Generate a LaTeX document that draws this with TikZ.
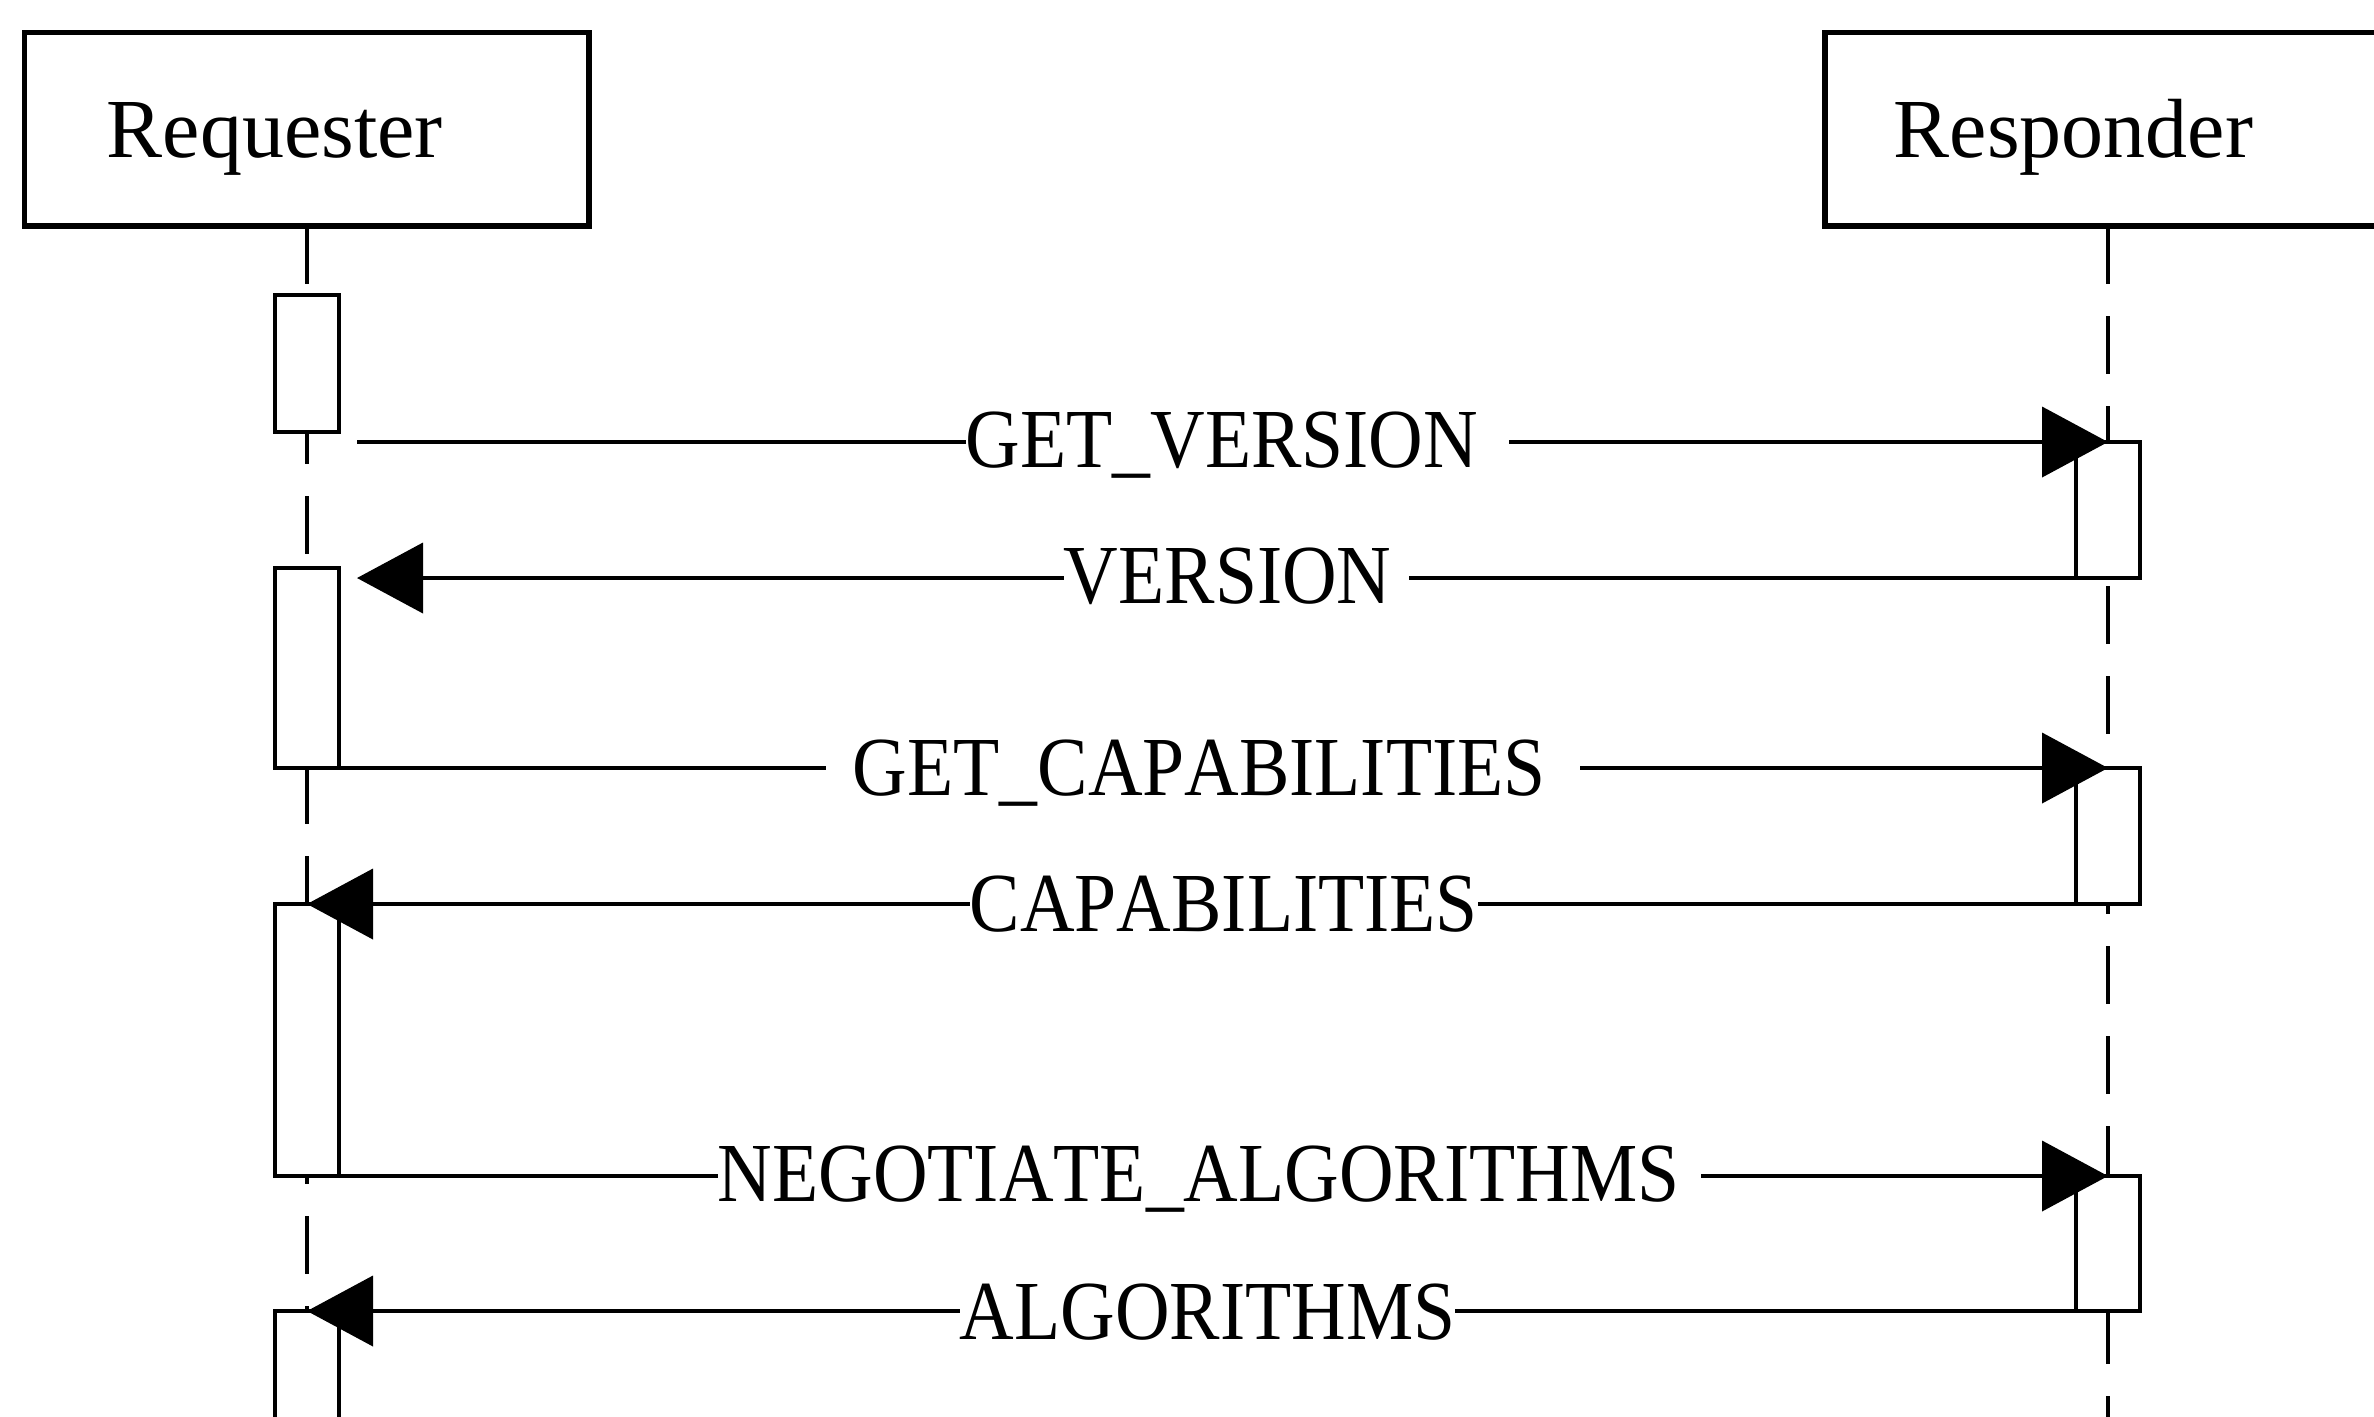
\documentclass[tikz,border=0pt]{standalone}
\usepackage{fontspec}
\setmainfont{Liberation Serif}
\newfontfamily\lblfont[FakeStretch=0.9,Kerning=Off]{Liberation Serif}
\usetikzlibrary{arrows.meta}
\begin{document}
\begin{tikzpicture}[x=0.25pt,y=-0.25pt,
  actor/.style={draw,line width=1.4pt,fill=white,inner sep=0pt,outer sep=0pt},
  act/.style={draw,line width=1pt,fill=white,inner sep=0pt,outer sep=0pt,minimum width=16pt,anchor=north},
  life/.style={line width=1pt,dash pattern=on 14.5pt off 8pt},
  msg/.style={line width=1pt,-{Triangle[length=16.5pt,width=17.5pt]}},
  lbl/.style={fill=white,inner sep=0pt,anchor=base west,font=\lblfont\fontsize{21pt}{25pt}\selectfont},
  actorname/.style={inner sep=0pt,anchor=base west,font=\fontsize{21pt}{25pt}\selectfont}]

\useasboundingbox (0,0) rectangle (2374,1416);
\clip (0,0) rectangle (2374,1416);

% actor boxes
\node[actor,anchor=north west,minimum width=141.1pt,minimum height=48.4pt] (req) at (24.5,32.5) {};
\node[actor,anchor=north west,minimum width=143.75pt,minimum height=48.4pt] (resp) at (1825,32.5) {};
\node[actorname] (reqname) at (106,157) {Requester};
\node[actorname] (respname) at (1893,157) {Responder};

% lifelines
\coordinate (ltop) at (307,226);
\coordinate (lbot) at (307,1430);
\coordinate (rtop) at (2108,226);
\coordinate (rbot) at (2108,1430);
\draw[life] (ltop) -- (lbot);
\draw[life] (rtop) -- (rbot);

% activations, requester
\node[act,minimum height=34.25pt] (a1) at (307,295) {};
\node[act,minimum height=50pt] (a2) at (307,568) {};
\node[act,minimum height=68pt] (a3) at (307,904) {};
\node[act,minimum height=32.25pt] (a4) at (307,1311) {};
% activations, responder
\node[act,minimum height=34pt] (b1) at (2108,442) {};
\node[act,minimum height=34pt] (b2) at (2108,768) {};
\node[act,minimum height=33.75pt] (b3) at (2108,1176) {};

% messages
\coordinate (m1s) at (357,442);
\coordinate (m2e) at (357,578);
\draw[msg] (m1s) -- (b1.north);
\draw[msg] (b1.south west) -- (m2e);
\draw[msg] (a2.south west) -- (b2.north);
\draw[msg] (b2.south west) -- (a3.north);
\draw[msg] (a3.south west) -- (b3.north);
\draw[msg] (b3.south west) -- (a4.north);

% labels
\node[lbl] (l1) at (965,467) {GET\_VERSION\kern7.75pt};
\node[lbl] (l2) at (1063,603) {VERSION\kern4.5pt};
\node[lbl] (l3) at (825,795) {\kern6.75pt GET\_CAPABILITIES\kern8.5pt};
\node[lbl] (l4) at (969,931) {CAPABILITIES};
\node[lbl] (l5) at (717,1201) {NEGOTIATE\_ALGORITHMS\kern5.25pt};
\node[lbl] (l6) at (959,1339) {ALGORITHMS};
\end{tikzpicture}
\end{document}
